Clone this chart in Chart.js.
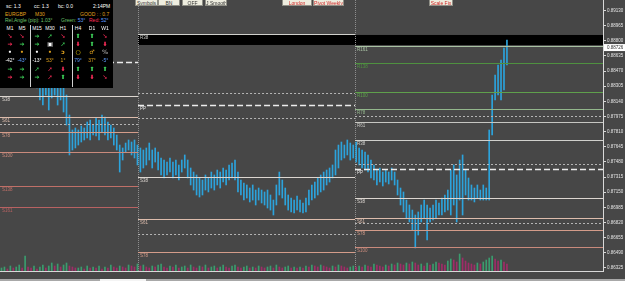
<!DOCTYPE html>
<html><head><meta charset="utf-8">
<script src="https://cdn.jsdelivr.net/npm/chart.js@4"></script>
<style>
html,body{margin:0;padding:0;background:#474747;overflow:hidden;width:625px;height:281px}
#wrap{position:relative;width:625px;height:281px}
canvas{position:absolute;left:0;top:0}
.btn{position:absolute;top:-4px;height:10px;background:#eeeddf;border:1px solid #8f8f86;box-sizing:border-box;font:5px "Liberation Sans",sans-serif;color:#333;text-align:center;line-height:13px;white-space:nowrap;overflow:hidden}
.btn.rd{color:#d02828}
#panel{position:absolute;left:0;top:0;width:113px;height:88px;background:#000;font:5px "Liberation Sans",sans-serif;color:#fff}
#panel span{position:absolute;white-space:nowrap;line-height:6px}
#panel .c{transform:translateX(-50%)}
#panel .a{font:bold 6px "DejaVu Sans",sans-serif}
.w{color:#fff}.o{color:#e0a21e}.g{color:#3ed45a}.r{color:#ff2d5a}.b{color:#5d9cff}.y{color:#f0d000}.gr{color:#909090}.lg{color:#6cc46c}
.sep{position:absolute;width:1px;background:#d0d0d0;top:25px;height:62px}
#strip{position:absolute;left:0;top:279px;width:625px;height:2px;background:#a8a8a8}
#strip i{position:absolute;left:100px;width:46px;height:2px;background:#f4f4f4}
</style></head>
<body><div id="wrap">
<canvas id="c" width="625" height="281"></canvas>
<div class="btn" style="left:135px;width:23px">Symbols</div>
<div class="btn" style="left:158px;width:22px">BN</div>
<div class="btn" style="left:182px;width:21px">OFF</div>
<div class="btn" style="left:205px;width:22px">J Smooth</div>
<div class="btn rd" style="left:282px;width:30px">London</div>
<div class="btn rd" style="left:313px;width:31px">Pivot Weekly</div>
<div class="btn rd" style="left:429px;width:24px">Scale Fix</div>
<div id="panel">
 <span style="left:6px;top:3px">sc: 1.3</span>
 <span style="left:34px;top:3px">cc: 1.3</span>
 <span style="left:58px;top:3px">bc: 0.0</span>
 <span style="left:93px;top:3px">2:14PM</span>
 <span class="o" style="left:5px;top:11px">EURGBP</span>
 <span class="o" style="left:35px;top:11px">M30</span>
 <span class="o" style="left:80px;top:11px">GOOD : : 0.7</span>
 <span class="lg" style="left:5px;top:17px">Rel.Angle (pip): 1.03°</span>
 <span style="left:61px;top:17px"><b class="lg" style="font-weight:normal">Green:</b> <b class="b" style="font-weight:normal">53°</b></span>
 <span style="left:89px;top:17px"><b class="r" style="font-weight:normal">Red:</b> <b class="b" style="font-weight:normal">52°</b></span>
 <div class="sep" style="left:30px"></div><div class="sep" style="left:72px"></div>
 <span class="c" style="left:10px;top:25px">M1</span><span class="c" style="left:22px;top:25px">M5</span>
 <span class="c" style="left:37px;top:25px">M15</span><span class="c" style="left:50px;top:25px">M30</span><span class="c" style="left:63px;top:25px">H1</span>
 <span class="c" style="left:78px;top:25px">H4</span><span class="c" style="left:92px;top:25px">D1</span><span class="c" style="left:105px;top:25px">W1</span>

 <span class="c a r" style="left:10px;top:32px">➘</span><span class="c a r" style="left:22px;top:32px">➘</span>
 <span class="c a g" style="left:37px;top:32px">➔</span><span class="c a g" style="left:50px;top:32px">➚</span><span class="c a r" style="left:63px;top:32px">➘</span>
 <span class="c a g" style="left:78px;top:32px">⬆</span><span class="c a g" style="left:92px;top:32px">⬆</span><span class="c a r" style="left:105px;top:32px">➘</span>

 <span class="c a r" style="left:10px;top:40px">➔</span><span class="c a g" style="left:22px;top:40px">➔</span>
 <span class="c a g" style="left:37px;top:40px">➔</span><span class="c a w" style="left:50px;top:40px">▣</span><span class="c a g" style="left:63px;top:40px">➚</span>
 <span class="c a r" style="left:78px;top:40px">⬇</span><span class="c a g" style="left:92px;top:40px">⬆</span><span class="c a r" style="left:105px;top:40px">⬇</span>

 <span class="c a w" style="left:10px;top:48px">•</span><span class="c a o" style="left:22px;top:48px">•</span>
 <span class="c a w" style="left:37px;top:48px">•</span><span class="c a o" style="left:50px;top:48px">•</span><span class="c a o" style="left:63px;top:48px">ↄ</span>
 <span class="c a y" style="left:78px;top:48px">○</span><span class="c a o" style="left:92px;top:48px">♂</span><span class="c a gr" style="left:105px;top:48px">%</span>

 <span class="c w" style="left:10px;top:57px">-42°</span><span class="c b" style="left:22px;top:57px">-43°</span>
 <span class="c w" style="left:37px;top:57px">-13°</span><span class="c o" style="left:50px;top:57px">53°</span><span class="c o" style="left:63px;top:57px">1°</span>
 <span class="c b" style="left:78px;top:57px">79°</span><span class="c o" style="left:92px;top:57px">37°</span><span class="c b" style="left:105px;top:57px">-5°</span>

 <span class="c a g" style="left:10px;top:65px">➔</span><span class="c a g" style="left:22px;top:65px">➔</span>
 <span class="c a g" style="left:37px;top:65px">➚</span><span class="c a r" style="left:50px;top:65px">➚</span><span class="c a r" style="left:63px;top:65px">⬇</span>
 <span class="c a g" style="left:78px;top:65px">⬆</span><span class="c a g" style="left:92px;top:65px">⬆</span><span class="c a g" style="left:105px;top:65px">⬆</span>

 <span class="c a r" style="left:10px;top:73px">➔</span><span class="c a g" style="left:22px;top:73px">➔</span>
 <span class="c a g" style="left:37px;top:73px">➔</span><span class="c a r" style="left:50px;top:73px">➚</span><span class="c a g" style="left:63px;top:73px">⬆</span>
 <span class="c a r" style="left:78px;top:73px">⬇</span><span class="c a r" style="left:92px;top:73px">⬇</span><span class="c a r" style="left:105px;top:73px">➘</span>
</div>
<div id="strip"><i></i></div>
</div>
<script>
// ---------- data ----------
const barCount = 204;
const tickLabels = ["31 Oct 2018","31 Oct 22:30","1 Nov 14:30","2 Nov 06:30","2 Nov 22:30","5 Nov 14:30","6 Nov 06:30","6 Nov 22:30","7 Nov 14:30","8 Nov 06:30","8 Nov 22:30","9 Nov 14:30","12 Nov 06:30","13 Nov 00:30","13 Nov 16:30","14 Nov 08:30","15 Nov 00:30","15 Nov 16:30"];
const tickStep = 10;

const priceHigh = [0.88590,0.88645,0.88612,0.88569,0.88536,0.88590,0.88645,0.88699,0.88634,0.88569,
0.88536,0.88481,0.88438,0.88373,0.88318,0.88351,0.88285,0.88373,0.88394,0.88329,
0.88373,0.88351,0.88209,0.87991,0.87828,0.87850,0.87828,0.87872,0.87850,0.87915,
0.87937,0.87882,0.87959,0.87937,0.87991,0.87970,0.87915,0.87882,0.87850,0.87773,
0.87664,0.87632,0.87686,0.87719,0.87697,0.87719,0.87664,0.87632,0.87610,0.87632,
0.87686,0.87610,0.87632,0.87588,0.87523,0.87501,0.87479,0.87523,0.87479,0.87501,
0.87447,0.87501,0.87556,0.87501,0.87414,0.87370,0.87338,0.87305,0.87283,0.87338,
0.87305,0.87370,0.87338,0.87392,0.87370,0.87414,0.87392,0.87447,0.87468,0.87501,
0.87370,0.87283,0.87250,0.87229,0.87196,0.87229,0.87174,0.87196,0.87174,0.87153,
0.87174,0.87120,0.87065,0.87229,0.87370,0.87283,0.87196,0.87120,0.87087,0.87065,
0.87109,0.87065,0.87033,0.87087,0.87174,0.87229,0.87261,0.87305,0.87338,0.87370,
0.87392,0.87414,0.87447,0.87610,0.87664,0.87697,0.87664,0.87719,0.87686,0.87664,
0.87697,0.87632,0.87610,0.87588,0.87556,0.87501,0.87447,0.87392,0.87414,0.87370,
0.87392,0.87370,0.87414,0.87370,0.87283,0.87196,0.87153,0.87065,0.87011,0.86956,
0.86902,0.86935,0.87011,0.87065,0.87011,0.86978,0.87011,0.87065,0.87033,0.87087,
0.87120,0.87174,0.87392,0.87447,0.87338,0.87501,0.87556,0.87392,0.87305,0.87229,
0.87196,0.87229,0.87174,0.87229,0.87196,0.87828,0.88209,0.88427,0.88536,0.88590,
0.88721,0.88808];

const priceLow = [0.88427,0.88481,0.88460,0.88394,0.88373,0.88416,0.88481,0.88503,0.88460,0.88373,
0.88329,0.88307,0.88285,0.88155,0.88100,0.88209,0.88046,0.88177,0.88209,0.88100,
0.88155,0.88024,0.87882,0.87556,0.87610,0.87632,0.87664,0.87697,0.87719,0.87741,
0.87719,0.87773,0.87763,0.87719,0.87806,0.87773,0.87719,0.87741,0.87664,0.87610,
0.87370,0.87501,0.87588,0.87610,0.87556,0.87523,0.87447,0.87370,0.87414,0.87447,
0.87501,0.87414,0.87479,0.87392,0.87338,0.87305,0.87338,0.87370,0.87305,0.87338,
0.87283,0.87370,0.87414,0.87305,0.87229,0.87174,0.87120,0.87098,0.87120,0.87174,
0.87153,0.87196,0.87174,0.87229,0.87196,0.87261,0.87229,0.87283,0.87305,0.87283,
0.87153,0.87120,0.87065,0.87087,0.87044,0.87065,0.87011,0.87065,0.87033,0.87011,
0.86978,0.86956,0.86902,0.87011,0.87120,0.87087,0.87011,0.86956,0.86935,0.86924,
0.86956,0.86935,0.86924,0.86935,0.87011,0.87065,0.87087,0.87120,0.87153,0.87174,
0.87229,0.87261,0.87305,0.87338,0.87414,0.87501,0.87523,0.87556,0.87501,0.87523,
0.87479,0.87447,0.87414,0.87392,0.87370,0.87305,0.87283,0.87229,0.87261,0.87218,
0.87261,0.87240,0.87283,0.87229,0.87120,0.87011,0.86935,0.86869,0.86826,0.86739,
0.86543,0.86684,0.86826,0.86869,0.86630,0.86826,0.86848,0.86869,0.86902,0.86902,
0.86935,0.86956,0.86902,0.87011,0.86826,0.87065,0.86902,0.87120,0.87065,0.87065,
0.87044,0.87087,0.87065,0.87065,0.87065,0.87065,0.87773,0.88155,0.88209,0.88155,
0.88264,0.88536];

const volume = [30,40,20,50,30,40,60,30,150,40,30,50,20,40,60,30,50,
80,50,70,40,60,80,50,40,30,
30,40,20,50,30,40,30,50,20,40,30,60,40,30,50,
40,30,60,50,40,70,50,60,40,30,50,40,60,70,40,30,50,40,60,30,
40,50,30,60,40,30,50,40,60,30,40,50,30,40,60,40,30,50,60,40,
30,40,50,30,40,30,50,40,30,40,50,30,60,40,30,40,50,30,40,30,
40,30,50,40,60,50,40,60,50,40,30,50,40,60,50,40,30,40,50,40,
50,40,60,50,40,70,60,50,40,60,50,70,60,80,70,60,80,70,90,80,
60,70,50,80,60,70,90,80,70,60,100,120,110,90,170,130,100,80,70,60,
80,70,90,110,130,150,120,100,110,90,70];

const yMin = 0.86292, yMax = 0.89244;
const yTicks = [0.89130,0.88965,0.88800,0.88635,0.88470,0.88305,0.88140,0.87975,0.87810,0.87645,0.87480,0.87315,0.87150,0.86985,0.86820,0.86655,0.86490,0.86325];
const lastPrice = 0.88726;

// weekly pivot periods (bar-index boundaries) and levels
const weekBounds = [-0.5, 46.2, 119.6, 203.5];
const pivotNames = ['R161','R138','R100','R78','R61','R38','PP','S38','S61','S78','S100','S138','S161'];
const pivotWeek1 = [null,null,null,null,null,null,0.88569,0.88198,0.87970,0.87806,0.87588,0.87218,0.86989];
const pivotWeek2 = [null,null,null,null,null,0.88874,0.88100,0.87316,0.86858,0.86499,null,null,null];
const pivotWeek3 = [0.88743,0.88558,0.88242,0.88057,0.87915,0.87719,0.87403,0.87087,0.86869,0.86739,0.86553,null,null];
const midWeek1 = [0.87893];
const midWeek2 = [0.88231,0.87959,0.86695];
const midWeek3 = [0.87980,0.87458,0.86815];
const bandRange = [0.88754, 0.88863];

// ---------- styles ----------
const pivotColors = {R161:'#a9c2a3',R138:'#4f9140',R100:'#5fa04c',R78:'#93b78c',R61:'#c6c6c2',R38:'#d0d0cc',
  PP:'#ececec',S38:'#dcd6d0',S61:'#dcbcac',S78:'#d49c8a',S100:'#c98a7c',S138:'#c07068',S161:'#b86262'};

const categories = Array.from({length: barCount}, (_, i) => (i % tickStep === 0 && tickLabels[i / tickStep]) ? tickLabels[i / tickStep] : '');
const priceBars = priceLow.map((l, i) => [l, priceHigh[i]]);

const overlay = {
  id: 'overlay',
  beforeDatasetsDraw(chart) {
    const {ctx, chartArea: a, scales: {x, y}} = chart;
    ctx.save();
    const bx0 = x.getPixelForValue(weekBounds[1]), bx1 = x.getPixelForValue(weekBounds[3]);
    const by0 = y.getPixelForValue(bandRange[1]), by1 = y.getPixelForValue(bandRange[0]);
    ctx.fillStyle = '#000';
    ctx.fillRect(bx0, by0, bx1 - bx0, by1 - by0);
    ctx.strokeStyle = '#8e8e8e'; ctx.lineWidth = 1; ctx.setLineDash([1, 1]);
    [weekBounds[1], weekBounds[2]].forEach(v => {
      const px = Math.round(x.getPixelForValue(v)) + 0.5;
      ctx.beginPath(); ctx.moveTo(px, a.top); ctx.lineTo(px, a.bottom); ctx.stroke();
    });
    ctx.restore();
  },
  afterDatasetsDraw(chart) {
    const {ctx, scales: {x, y}} = chart;
    ctx.save();
    ctx.lineWidth = 1;
    ctx.font = '4.5px "Liberation Sans"';
    ctx.textBaseline = 'top';
    const weeks = [pivotWeek1, pivotWeek2, pivotWeek3];
    const mids = [midWeek1, midWeek2, midWeek3];
    weeks.forEach((levels, w) => {
      const x0 = x.getPixelForValue(weekBounds[w]), x1 = x.getPixelForValue(weekBounds[w + 1]);
      mids[w].forEach(v => {
        const py = Math.round(y.getPixelForValue(v)) + 0.5;
        ctx.strokeStyle = '#b4b4b4'; ctx.lineWidth = 1; ctx.setLineDash([2, 2]);
        ctx.beginPath(); ctx.moveTo(x0, py); ctx.lineTo(x1, py); ctx.stroke();
      });
      levels.forEach((v, k) => {
        if (v === null) return;
        const name = pivotNames[k];
        const py = Math.round(y.getPixelForValue(v)) + 0.5;
        ctx.strokeStyle = pivotColors[name];
        ctx.setLineDash(name === 'PP' ? [6, 3] : []);
        ctx.lineWidth = name === 'PP' ? 1.5 : 1;
        ctx.beginPath(); ctx.moveTo(x0, py); ctx.lineTo(x1, py); ctx.stroke();
        ctx.fillStyle = pivotColors[name];
        ctx.fillText(name, x0 + 2, py + 1.5);
      });
    });
    ctx.restore();
  },
  afterDraw(chart) {
    const {ctx, chartArea: a, scales: {y}} = chart;
    const py = y.getPixelForValue(lastPrice);
    ctx.save();
    ctx.fillStyle = '#ffffff';
    ctx.fillRect(a.right + 1, py - 3.5, 625 - a.right - 1, 7);
    ctx.fillStyle = '#303030';
    ctx.font = '4.5px "Liberation Sans"';
    ctx.textBaseline = 'middle';
    ctx.fillText(lastPrice.toFixed(5), a.right + 4, py + 0.5);
    ctx.restore();
  }
};

const fontTick = {family: 'Liberation Sans', size: 4.5};

new Chart(document.getElementById('c'), {
  type: 'bar',
  data: {
    labels: categories,
    datasets: [
      {
        label: 'Volume', data: volume, yAxisID: 'yv', grouped: false, barThickness: 1,
        backgroundColor: ctx => (ctx.dataIndex > 0 && volume[ctx.dataIndex] < volume[ctx.dataIndex - 1]) ? '#a02c68' : '#3a9c6e',
        order: 2
      },
      {
        label: 'EURGBP', data: priceBars, yAxisID: 'y', grouped: false, barThickness: 1,
        backgroundColor: '#2ca3dc', borderWidth: 0, order: 1
      }
    ]
  },
  options: {
    responsive: false, animation: false, devicePixelRatio: 1,
    layout: {padding: 0},
    plugins: {legend: {display: false}, tooltip: {enabled: false}, title: {display: false}},
    scales: {
      x: {
        offset: true,
        grid: {display: false},
        border: {display: true, color: '#d8d8d8'},
        ticks: {autoSkip: false, maxRotation: 0, minRotation: 0, align: 'start', padding: 1, color: '#e4e4e4', font: fontTick,
          callback: (v, i) => categories[i]},
        afterFit: s => { s.height = 10; s.paddingLeft = 0; s.paddingRight = 0; }
      },
      y: {
        position: 'right', min: yMin, max: yMax,
        grid: {drawOnChartArea: false, drawTicks: true, tickLength: 3, color: '#d8d8d8'},
        border: {display: true, color: '#d8d8d8'},
        ticks: {padding: 1, color: '#e4e4e4', font: fontTick, callback: v => Number(v).toFixed(5)},
        afterBuildTicks: s => { s.ticks = yTicks.map(v => ({value: v})); },
        afterFit: s => { s.width = 22; s.paddingTop = 0; s.paddingBottom = 0; }
      },
      yv: {display: false, min: 0, max: 2710}
    }
  },
  plugins: [overlay]
});
</script>
</body></html>
